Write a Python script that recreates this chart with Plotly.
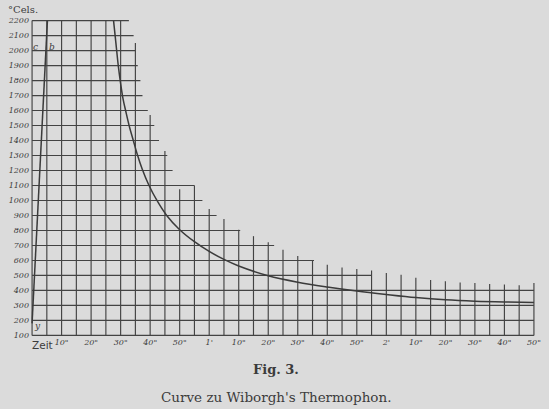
import plotly.graph_objects as go

# ---- data ----
temp_levels = [100, 200, 300, 400, 500, 600, 700, 800, 900, 1000, 1100,
               1200, 1300, 1400, 1500, 1600, 1700, 1800, 1900, 2000, 2100, 2200]
# how far (seconds) each horizontal grid line reaches to the right
temp_line_reach = [170, 170, 170, 170, 115, 95.5, 82, 70.5, 62.5, 57.7, 55,
                   47.6, 45.8, 43, 41.4, 39.2, 37.4, 36.7, 35.8, 35, 34.4, 32.8]

time_marks = list(range(0, 175, 5))
# how high (°C) each vertical grid line reaches
time_line_reach = [2200, 2200, 2200, 2200, 2200, 2200, 2200, 2050, 1570, 1330,
                   1075, 1100, 943, 877, 805, 762, 722, 671, 629, 603, 571,
                   553, 543, 533, 516, 505, 485, 469, 462, 453, 449, 443,
                   440, 435, 450]

# heating line (c - b)
rise_time = [0, 2.4, 5.2]
rise_temp = [180, 1140, 2200]

# cooling curve
fall_time = [27.6, 28.4, 29.2, 30.0, 30.8, 31.8, 33.0, 34.3, 35.6, 37.3, 39.5,
             42.3, 45.6, 50, 55, 60, 65, 70, 80, 90, 100, 110, 120, 130,
             140, 150, 160, 170]
fall_temp = [2200, 2050, 1900, 1780, 1680, 1590, 1490, 1400, 1310, 1210, 1105,
             1000, 900, 805, 725, 660, 607, 563, 498, 455, 423, 396, 373, 352,
             337, 328, 323, 320]

x_tick_vals = [10, 20, 30, 40, 50, 60, 70, 80, 90, 100, 110, 120, 130, 140, 150, 160, 170]
x_tick_text = ['10"', '20"', '30"', '40"', '50"', "1'", '10"', '20"', '30"', '40"',
               '50"', "2'", '10"', '20"', '30"', '40"', '50"']

y_tick_vals = temp_levels
y_tick_text = [str(v) for v in temp_levels]

# ---- build grid segments ----
gx, gy = [], []
for lvl, reach in zip(temp_levels, temp_line_reach):
    gx += [0, reach, None]
    gy += [lvl, lvl, None]
for t, reach in zip(time_marks, time_line_reach):
    gx += [t, t, None]
    gy += [100, reach, None]

INK = "#3b3b3b"
PAPER = "#dbdbdb"

fig = go.Figure()
fig.add_trace(go.Scatter(x=gx, y=gy, mode="lines",
                         line=dict(color="#434343", width=1.15),
                         hoverinfo="skip", showlegend=False))
fig.add_trace(go.Scatter(x=rise_time, y=rise_temp, mode="lines",
                         line=dict(color=INK, width=1.5),
                         showlegend=False))
fig.add_trace(go.Scatter(x=fall_time, y=fall_temp, mode="lines",
                         line=dict(color=INK, width=1.5, shape="spline", smoothing=1),
                         showlegend=False))

serif = "DejaVu Serif"
fig.update_layout(
    width=549, height=409,
    margin=dict(l=28, r=8, t=20, b=73),
    paper_bgcolor=PAPER, plot_bgcolor=PAPER,
    showlegend=False,
    xaxis=dict(range=[-0.7, 170.7], showgrid=False, zeroline=False, showline=False,
               tickmode="array", tickvals=x_tick_vals, ticktext=x_tick_text,
               ticks="", tickfont=dict(family=serif, size=8, color=INK, style="italic"),
               fixedrange=True),
    yaxis=dict(range=[96, 2204], showgrid=False, zeroline=False, showline=False,
               tickmode="array", tickvals=y_tick_vals, ticktext=y_tick_text,
               ticks="", tickfont=dict(family=serif, size=8, color=INK, style="italic"),
               fixedrange=True),
)

fig.add_annotation(text="°Cels.", xref="paper", yref="paper", x=-0.048, y=1.01,
                   xanchor="left", yanchor="bottom", showarrow=False,
                   font=dict(family=serif, size=10, color=INK))
fig.add_annotation(text="Zeit", xref="x", yref="paper", x=-0.6, y=0, yshift=-1,
                   xanchor="left", yanchor="top", showarrow=False,
                   font=dict(family="DejaVu Sans", size=10.5, color=INK))
fig.add_annotation(text="c", x=1.0, y=2025, xanchor="center", yanchor="middle",
                   showarrow=False, font=dict(family=serif, size=9, color=INK, style="italic"))
fig.add_annotation(text="b", x=6.7, y=2025, xanchor="center", yanchor="middle",
                   showarrow=False, font=dict(family=serif, size=9, color=INK, style="italic"))
fig.add_annotation(text="y", x=1.8, y=160, xanchor="center", yanchor="middle",
                   showarrow=False, font=dict(family=serif, size=9, color=INK, style="italic"))
fig.add_annotation(text="<b>Fig. 3.</b>", xref="paper", yref="paper", x=0.487, y=-0.105,
                   xanchor="center", yanchor="middle", showarrow=False,
                   font=dict(family=serif, size=13, color=INK))
fig.add_annotation(text="Curve zu Wiborgh's Thermophon.", xref="paper", yref="paper",
                   x=0.487, y=-0.193, xanchor="center", yanchor="middle", showarrow=False,
                   font=dict(family=serif, size=13.5, color=INK))

fig.write_html("out.html", config={"displayModeBar": False},
               post_script="document.body.style.margin='0';")
